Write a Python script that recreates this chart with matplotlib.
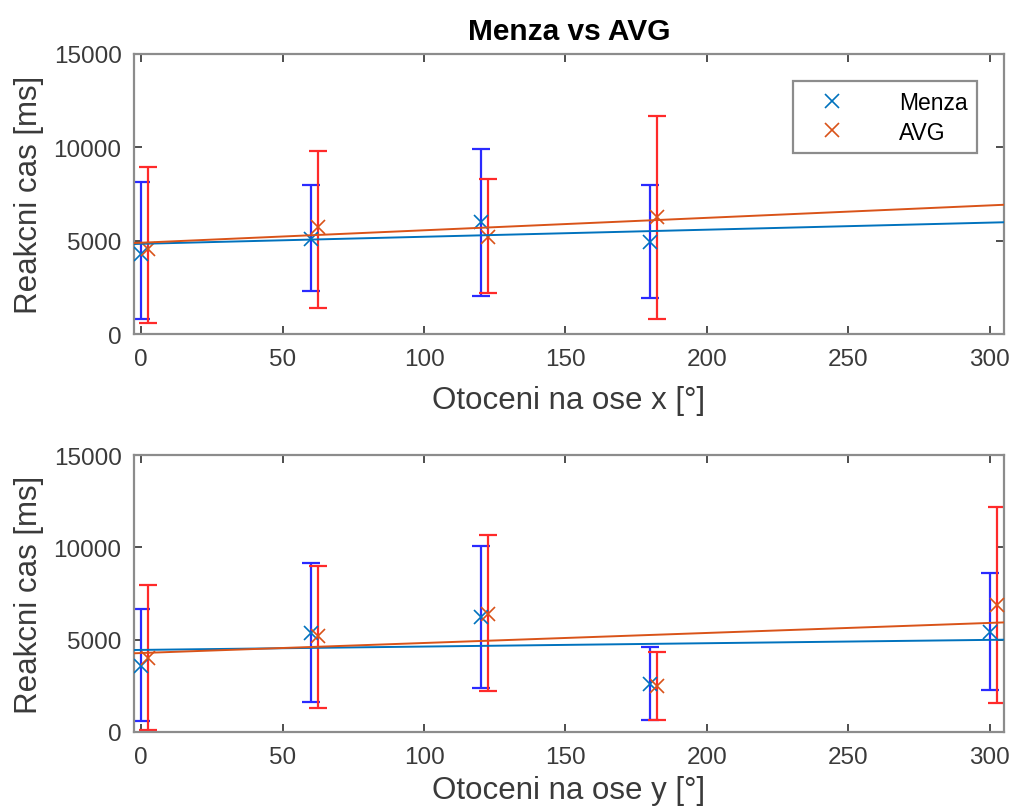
import numpy as np
import matplotlib
matplotlib.use('Agg')
from matplotlib import pyplot as plt

plt.rcParams['font.family'] = ['Liberation Sans', 'DejaVu Sans']

# rotation angles [deg]
angles_x = [0, 60, 120, 180]
angles_y = [0, 60, 120, 180, 300]
avg_shift = 2.5

# top panel: rotation around x
menza_x_mark = [4290, 5090, 6020, 4910]
menza_x_lo = [800, 2290, 2020, 1910]
menza_x_hi = [8130, 7980, 9910, 7980]
avg_x_mark = [4550, 5720, 5180, 6250]
avg_x_lo = [590, 1380, 2200, 800]
avg_x_hi = [8960, 9820, 8300, 11690]
fit_ends = [-3, 306]
menza_x_fit = [4820, 5990]
avg_x_fit = [4870, 6930]

# bottom panel: rotation around y
menza_y_mark = [3590, 5360, 6210, 2600, 5430]
menza_y_lo = [580, 1640, 2370, 670, 2290]
menza_y_hi = [6640, 9150, 10090, 4620, 8590]
avg_y_mark = [3990, 5180, 6390, 2510, 6890]
avg_y_lo = [130, 1280, 2200, 670, 1550]
avg_y_hi = [7960, 8970, 10670, 4350, 12170]
menza_y_fit = [4440, 5000]
avg_y_fit = [4260, 5940]

yticks = [0, 5000, 10000, 15000]
xticks = [0, 50, 100, 150, 200, 250, 300]

c_menza = '#0072BD'
c_avg = '#D95319'
frame_c = '#8c8c8c'
text_c = '#3a3a3a'


def draw_panel(ax, x, m_mark, m_lo, m_hi, a_mark, a_lo, a_hi, m_fit, a_fit, xlabel, lpad):
    x = np.array(x, dtype=float)
    xa = x + avg_shift
    m_mark, m_lo, m_hi = map(np.array, (m_mark, m_lo, m_hi))
    a_mark, a_lo, a_hi = map(np.array, (a_mark, a_lo, a_hi))
    ax.errorbar(x, m_mark, yerr=[m_mark - m_lo, m_hi - m_mark], fmt='none',
                ecolor='#2a2aff', elinewidth=1.6, capsize=6.5, capthick=1.6, zorder=2)
    ax.errorbar(xa, a_mark, yerr=[a_mark - a_lo, a_hi - a_mark], fmt='none',
                ecolor='#ff2a2a', elinewidth=1.6, capsize=6.5, capthick=1.6, zorder=2)
    h1, = ax.plot(x, m_mark, 'x', color=c_menza, ms=10, mew=1.2, label='Menza', zorder=3)
    h2, = ax.plot(xa, a_mark, 'x', color=c_avg, ms=10, mew=1.2, label='AVG', zorder=3)
    ax.plot(fit_ends, m_fit, color=c_menza, lw=1.4, zorder=3)
    ax.plot(fit_ends, a_fit, color=c_avg, lw=1.4, zorder=3)
    ax.set_xlim(-2.5, 305)
    ax.set_ylim(0, 15000)
    ax.set_xticks(xticks)
    ax.set_yticks(yticks)
    ax.tick_params(direction='in', length=6, width=1.2, color='#303030',
                   top=True, right=True, labelsize=17.5, labelcolor=text_c)
    ax.tick_params(axis='x', pad=10)
    ax.tick_params(axis='y', pad=9)
    for s in ax.spines.values():
        s.set_color(frame_c)
        s.set_linewidth(1.6)
    ax.set_xlabel(xlabel, fontsize=22.5, color=text_c, labelpad=lpad)
    ax.set_ylabel('Reakcni cas [ms]', fontsize=22.5, color=text_c)
    ax.yaxis.set_label_coords(-0.104, 0.5)
    return h1, h2


fig = plt.figure(figsize=(10.16, 8.12), dpi=100)
ax1 = fig.add_axes([0.1319, 0.5874, 0.8563, 0.3449])
ax2 = fig.add_axes([0.1319, 0.0973, 0.8563, 0.3411])

h1, h2 = draw_panel(ax1, angles_x, menza_x_mark, menza_x_lo, menza_x_hi,
                    avg_x_mark, avg_x_lo, avg_x_hi, menza_x_fit, avg_x_fit,
                    'Otoceni na ose x [°]', 11)
draw_panel(ax2, angles_y, menza_y_mark, menza_y_lo, menza_y_hi,
           avg_y_mark, avg_y_lo, avg_y_hi, menza_y_fit, avg_y_fit,
           'Otoceni na ose y [°]', 5)

ax1.set_title('Menza vs AVG', fontsize=21.5, fontweight='bold', pad=11)
leg = ax1.legend(handles=[h1, h2], loc='upper right', fontsize=16.5,
                 fancybox=False, borderaxespad=1.2, handletextpad=1.6,
                 borderpad=0.4, labelspacing=0.3, handlelength=2.6)
leg.get_frame().set_edgecolor('#707070')
leg.get_frame().set_linewidth(1.6)

fig.savefig('out.png', dpi=100)
